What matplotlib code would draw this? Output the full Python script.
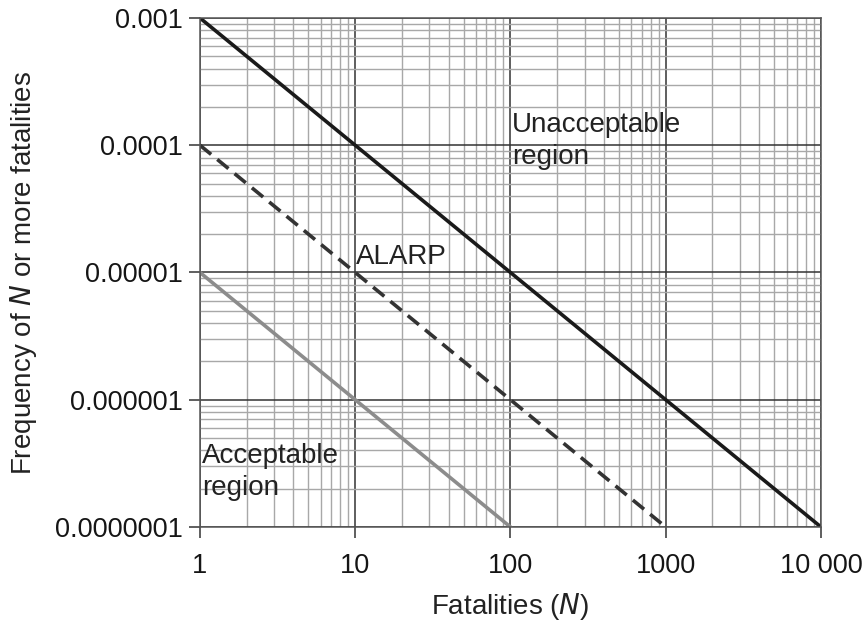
import matplotlib
matplotlib.use('Agg')
import matplotlib.pyplot as plt
from matplotlib.ticker import FixedLocator, LogLocator, NullFormatter

plt.rcParams['font.family'] = ['Liberation Sans', 'DejaVu Sans']

# F-N criterion lines: (N, frequency) end points
upperN = [1, 10000]
upperF = [1e-3, 1e-7]
alarpN = [1, 1000]
alarpF = [1e-4, 1e-7]
lowerN = [1, 100]
lowerF = [1e-5, 1e-7]

xTicks = [1, 10, 100, 1000, 10000]
xLabels = ['1', '10', '100', '1000', '10 000']
yTicks = [1e-7, 1e-6, 1e-5, 1e-4, 1e-3]
yLabels = ['0.0000001', '0.000001', '0.00001', '0.0001', '0.001']

fig = plt.figure(figsize=(8.63, 6.2), dpi=100)
ax = fig.add_axes([0.2317, 0.15, 0.7196, 0.821])
ax.set_xscale('log')
ax.set_yscale('log')
ax.set_xlim(1, 10000)
ax.set_ylim(1e-7, 1e-3)

ax.xaxis.set_major_locator(FixedLocator(xTicks))
ax.yaxis.set_major_locator(FixedLocator(yTicks))
ax.set_xticklabels(xLabels)
ax.set_yticklabels(yLabels)
ax.xaxis.set_minor_locator(LogLocator(base=10, subs=range(2, 10), numticks=20))
ax.yaxis.set_minor_locator(LogLocator(base=10, subs=range(2, 10), numticks=20))
ax.xaxis.set_minor_formatter(NullFormatter())
ax.yaxis.set_minor_formatter(NullFormatter())

ax.grid(which='minor', color='#a8a8a8', linewidth=1.0)
ax.grid(which='major', color='#333333', linewidth=1.1)
ax.set_axisbelow(True)
for s in ax.spines.values():
    s.set_color('#555555')
    s.set_linewidth(1.1)

ax.tick_params(which='major', direction='out', length=8, width=1.1, color='#333333',
               labelsize=19.5, labelcolor='#151515')
ax.tick_params(axis='y', which='major', pad=4)
ax.tick_params(axis='x', which='major', pad=11)
ax.tick_params(which='minor', length=0)

ax.plot(upperN, upperF, color='#1a1a1a', linewidth=2.6)
ax.plot(alarpN, alarpF, color='#333333', linewidth=2.6, linestyle=(0, (4, 2.2)))
ax.plot(lowerN, lowerF, color='#8c8c8c', linewidth=2.6)

# region labels
ax.text(102, 10**-3.74, 'Unacceptable\nregion', fontsize=20, va='top', ha='left',
        color='#222222', linespacing=1.3)
ax.text(10.1, 10**-4.78, 'ALARP', fontsize=20, va='top', ha='left', color='#222222')
ax.text(1.03, 10**-6.34, 'Acceptable\nregion', fontsize=20, va='top', ha='left',
        color='#222222', linespacing=1.3)

ax.set_xlabel('Fatalities ($\\it{N}$)', fontsize=20, color='#222222', labelpad=8)
ax.set_ylabel('Frequency of $\\it{N}$ or more fatalities', fontsize=20, color='#222222',
              labelpad=12)

fig.savefig('out.png', dpi=100)
